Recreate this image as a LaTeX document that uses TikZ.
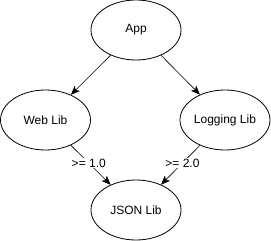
\documentclass[tikz,border=0pt]{standalone}
\usepackage{xcolor}
\usepackage{fontspec}
\setmainfont{Liberation Sans}
\usepackage{tikz}
\usetikzlibrary{shapes.geometric, arrows.meta, positioning}
\definecolor{inkblack}{HTML}{000000}
\tikzstyle{lib} = [ellipse, draw=inkblack, fill=white, text=inkblack, minimum width=90pt, minimum height=60pt, inner sep=0pt, line width=0.8pt, font=\fontsize{12}{14}\selectfont]
\tikzstyle{dep} = [line width=0.6pt, -{Stealth[length=3.2mm, width=2.6mm, inset=0.8mm]}, color=inkblack]
\tikzstyle{version} = [fill=white, text=inkblack, inner sep=1pt, font=\fontsize{12}{14}\selectfont]

\begin{document}
\begin{tikzpicture}
\useasboundingbox (0pt,0pt) rectangle (271pt,-241pt);
\node (app) [lib] at (136pt,-30pt) {App};
\node (weblib) [lib] at (45.5pt,-120pt) {Web Lib};
\node (logginglib) [lib] at (225pt,-120pt) {Logging Lib};
\node (jsonlib) [lib] at (136pt,-210pt) {JSON Lib};

\draw[dep] (app) -- (weblib);
\draw[dep] (app) -- (logginglib);
\draw[dep] (weblib) -- node[version, pos=0.45] {>= 1.0} (jsonlib);
\draw[dep] (logginglib) -- node[version, pos=0.45] {>= 2.0} (jsonlib);
\end{tikzpicture}
\end{document}
